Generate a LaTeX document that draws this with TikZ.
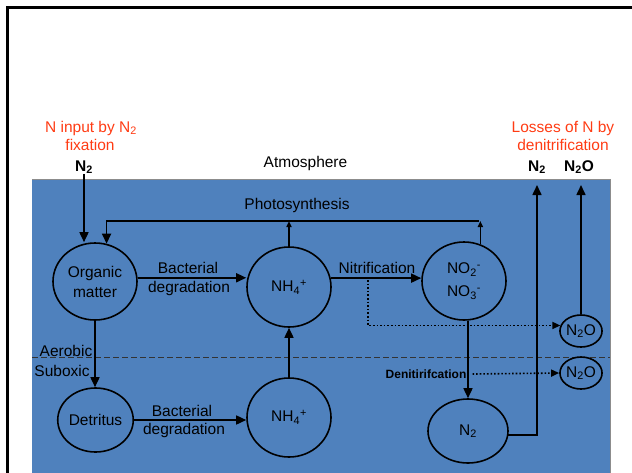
\documentclass[tikz,border=0pt]{standalone}
\usepackage{fontspec}
\setmainfont{Liberation Sans}
\usetikzlibrary{shapes.geometric,arrows.meta}
\definecolor{seablue}{HTML}{4F81BD}
\definecolor{redtxt}{RGB}{255,60,20}
\begin{document}
\begin{tikzpicture}[x=1pt,y=-1pt,
  every node/.style={font=\fontsize{15.5}{20}\selectfont, inner sep=0pt},
  pool/.style={draw, ellipse, line width=1.6pt, inner sep=0pt, align=center},
  flow/.style={line width=1.6pt, -{Triangle[length=10pt,width=9pt]}},
  smallflow/.style={line width=1.6pt, -{Triangle[length=6pt,width=5pt]}},
  dotflow/.style={line width=1.6pt, dash pattern=on 1.6pt off 2pt, -{Triangle[length=8pt,width=7pt]}},
  redlbl/.style={text=redtxt},
  boldlbl/.style={font=\fontsize{15.5}{20}\selectfont\bfseries},
  denlbl/.style={font=\fontsize{12}{14}\selectfont\bfseries},
  zonelbl/.style={}]
\clip (0,0) rectangle (632,472);
\useasboundingbox (0,0) rectangle (632,472);
\fill[white] (0,0) rectangle (632,472);
% frame
\draw[line width=3pt] (7.5,7.5) rectangle (660,500);
% sea
\fill[seablue] (32,179) rectangle (610,480);
\draw[black!45, line width=1pt] (32,179) -- (610,179) -- (610,480);
% zone boundary
\draw[line width=0.8pt, dash pattern=on 6pt off 3pt, black!80] (32,357) -- (610,357);
\node[zonelbl] (aer) at (66,351) {Aerobic};
\node[zonelbl] (sub) at (62,371) {Suboxic};

% top labels
\node[redlbl] (in1) at (91,128) {N input by N\textsubscript{2}};
\node[redlbl] (in2) at (90,145) {fixation};
\node[redlbl] (out1) at (563,128) {Losses of N by};
\node[redlbl] (out2) at (563,145) {denitrification};
\node[boldlbl] (n2in) at (84,167) {N\textsubscript{2}};
\node (atm) at (305.5,163) {Atmosphere};
\node[boldlbl] (n2out) at (537,167) {N\textsubscript{2}};
\node[boldlbl] (n2oout) at (579,167) {N\textsubscript{2}O};
\coordinate (ytop) at (0,185);

% pools
\node[pool, minimum width=84, minimum height=77] (om) at (95,281.5) {Organic\\matter};
\node[pool, minimum width=84, minimum height=80] (nh4t) at (289,287) {NH\textsubscript{4}\textsuperscript{+}};
\node[pool, minimum width=84, minimum height=78, font=\fontsize{15.5}{23}\selectfont] (no) at (464,281) {NO\textsubscript{2}\textsuperscript{-}\\NO\textsubscript{3}\textsuperscript{-}};
\node[pool, minimum width=75, minimum height=64] (det) at (95.5,420) {Detritus};
\node[pool, minimum width=84, minimum height=79] (nh4b) at (289,417.5) {NH\textsubscript{4}\textsuperscript{+}};
\node[pool, minimum width=80, minimum height=64] (n2b) at (468,431) {N\textsubscript{2}};
\node[pool, minimum width=38, minimum height=32] (n2oa) at (581,331) {N\textsubscript{2}O};
\node[pool, minimum width=38, minimum height=32] (n2ob) at (581,373) {N\textsubscript{2}O};

% labels on flows
\node (ps) at (297,205) {Photosynthesis};
\node (bd1) at (188,268) {Bacterial};
\node (bd2) at (189,288) {degradation};
\node (nit) at (377,268) {Nitrification};
\node (bd3) at (182,411) {Bacterial};
\node (bd4) at (184,430) {degradation};
\node[denlbl] (den) at (426,374) {Denitirifcation};

% flows
\draw[flow] (n2in.south) -- (n2in.south |- om.north);
\coordinate (pc) at (479,221);
\draw[smallflow] (no.66) -- (no.66 |- pc);
\draw[smallflow] (nh4t.north) -- (nh4t.north |- pc);
\draw[flow] (pc) -| (om.73);
\draw[flow] (om.5) -- (om.5 -| nh4t.west);
\draw[flow] (nh4t.12) -- (nh4t.12 -| no.west);
\coordinate (dstart) at (368,280);
\draw[dotflow] (dstart) |- (n2oa.165);
\draw[flow] (om.south) -- (om.south |- det.north);
\draw[flow] (det.east) -- (det.east -| nh4b.west);
\draw[flow] (nh4b.north) -- (nh4t.south);
\draw[flow] (n2b.north |- no.south) -- (n2b.north);
\draw[dotflow] ([xshift=6pt]den.east) -- (n2ob.west);
\draw[flow] (n2b.-6) -| (n2out.south |- ytop);
\draw[flow] (n2oa.north) -- (n2oa.north |- ytop);
\end{tikzpicture}
\end{document}
